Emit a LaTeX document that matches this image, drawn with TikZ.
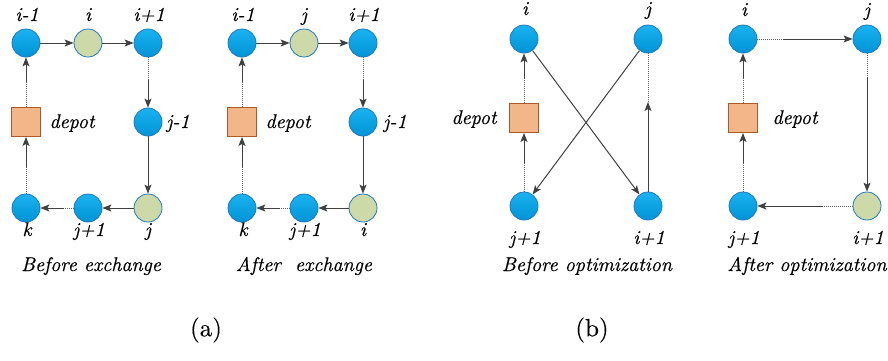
\documentclass[tikz,border=0pt]{standalone}
\usepackage{fontspec}
\newfontface\lblfont{lmroman10-italic.otf}[FakeBold=0.4]
\newfontface\capfont{lmroman10-regular.otf}[FakeBold=0.25]
\usetikzlibrary{arrows.meta}
\definecolor{blueTop}{HTML}{1AB2F0}
\definecolor{blueBot}{HTML}{0094D6}
\definecolor{borderblue}{HTML}{1E78BE}
\definecolor{nodegreen}{HTML}{CDD9A9}
\definecolor{depotfill}{HTML}{F3B689}
\definecolor{depotdraw}{HTML}{A85C2C}
\definecolor{arrgray}{HTML}{404040}
\tikzset{
  cust/.style={circle, minimum size=28pt, inner sep=0pt, draw=borderblue, line width=0.8pt, top color=blueTop, bottom color=blueBot},
  swapnode/.style={circle, minimum size=28pt, inner sep=0pt, draw=borderblue, line width=0.8pt, fill=nodegreen},
  depotbox/.style={rectangle, minimum size=29pt, inner sep=0pt, draw=depotdraw, line width=0.9pt, fill=depotfill},
  lbl/.style={font=\lblfont\fontsize{19.8}{24}\selectfont, inner sep=0pt, anchor=base},
  subcap/.style={font=\capfont\fontsize{25}{30}\selectfont, inner sep=0pt},
  arr/.style={draw=arrgray, line width=1pt, -{Stealth[length=9pt,width=7pt,inset=2pt]}},
  dotln/.style={draw=arrgray!85, line width=1pt, densely dotted},
}
\newcommand{\dotarrow}[3][0.45]{%
  \path (#2) -- (#3) coordinate[pos=#1] (dm);
  \draw[dotln] (#2) -- (dm);
  \draw[arr] (dm) -- (#3);}
\begin{document}
\begin{tikzpicture}[x=1pt,y=-1pt]
\useasboundingbox (0,0) rectangle (888,360);
% ---------- Panel 1 ----------
\node[cust] (a1) at (26,43) {};
\node[swapnode] (a2) at (88,43) {};
\node[cust] (a3) at (148,43) {};
\node[cust] (a4) at (148,122) {};
\node[swapnode] (a5) at (148,208) {};
\node[cust] (a6) at (88,208) {};
\node[cust] (a7) at (26,208) {};
\node[depotbox] (ad) at (26,122) {};
\node[lbl] (la1) at (27,21) {i-1};
\node[lbl] (la2) at (88,21) {i};
\node[lbl] (la3) at (149,21) {i+1};
\node[lbl] (la4) at (178,128) {j-1};
\node[lbl] (lad) at (72,128) {depot};
\node[lbl] (la5) at (148,236) {j};
\node[lbl] (la6) at (89,236) {j+1};
\node[lbl] (la7) at (27,236) {k};
\node[lbl] (ca) at (91,271) {Before exchange};
\draw[arr] (a1) -- (a2);
\draw[arr] (a2) -- (a3);
\dotarrow[0.45]{a3}{a4}
\draw[arr] (a4) -- (a5);
\draw[arr] (a5) -- (a6);
\dotarrow[0.28]{a6}{a7}
\dotarrow[0.47]{a7}{ad}
\dotarrow[0.5]{ad}{a1}
% ---------- Panel 2 ----------
\node[cust] (b1) at (242,43) {};
\node[swapnode] (b2) at (304,43) {};
\node[cust] (b3) at (363,43) {};
\node[cust] (b4) at (363,122) {};
\node[swapnode] (b5) at (363,208) {};
\node[cust] (b6) at (304,208) {};
\node[cust] (b7) at (242,208) {};
\node[depotbox] (bd) at (242,122) {};
\node[lbl] (lb1) at (243,21) {i-1};
\node[lbl] (lb2) at (304,21) {j};
\node[lbl] (lb3) at (364,21) {i+1};
\node[lbl] (lb4) at (395,128) {j-1};
\node[lbl] (lbd) at (288,128) {depot};
\node[lbl] (lb5) at (363,236) {i};
\node[lbl] (lb6) at (305,236) {j+1};
\node[lbl] (lb7) at (243,236) {k};
\node[lbl] (cb) at (304,271) {After~ exchange};
\draw[arr] (b1) -- (b2);
\draw[arr] (b2) -- (b3);
\dotarrow[0.45]{b3}{b4}
\draw[arr] (b4) -- (b5);
\draw[arr] (b5) -- (b6);
\dotarrow[0.28]{b6}{b7}
\dotarrow[0.47]{b7}{bd}
\dotarrow[0.5]{bd}{b1}
% ---------- Panel 3 ----------
\node[cust] (c1) at (524,39) {};
\node[cust] (c2) at (648,39) {};
\node[cust] (c3) at (524,206) {};
\node[cust] (c4) at (648,206) {};
\node[depotbox] (cd) at (524,118) {};
\node[lbl] (lc1) at (525,15) {i};
\node[lbl] (lc2) at (648,15) {j};
\node[lbl] (lc3) at (525,244) {j+1};
\node[lbl] (lc4) at (649,244) {i+1};
\node[lbl] (lcd) at (474,124) {depot};
\node[lbl] (cc) at (587,271) {Before optimization};
\coordinate (cm) at (648,102);
\dotarrow[0.5]{cd}{c1}
\dotarrow[0.48]{c3}{cd}
\draw[arr] (c1) -- (c4);
\draw[arr] (c2) -- (c3);
\draw[arr] (c4) -- (cm);
\draw[dotln] (cm) -- (c2);
% ---------- Panel 4 ----------
\node[cust] (d1) at (743,39) {};
\node[cust] (d2) at (867,39) {};
\node[cust] (d3) at (743,206) {};
\node[swapnode] (d4) at (867,206) {};
\node[depotbox] (dd) at (743,118) {};
\node[lbl] (ld1) at (744,16) {i};
\node[lbl] (ld2) at (867,16) {j};
\node[lbl] (ld3) at (744,244) {j+1};
\node[lbl] (ld4) at (868,244) {i+1};
\node[lbl] (ldd) at (795,124) {depot};
\node[lbl] (cdc) at (807,271) {After optimization};
\dotarrow[0.27]{d1}{d2}
\dotarrow[0.17]{d2}{d4}
\dotarrow[0.31]{d4}{d3}
\dotarrow[0.48]{d3}{dd}
\dotarrow[0.5]{dd}{d1}
% ---------- captions ----------
\node[subcap] (pa) at (206,330) {(a)};
\node[subcap] (pb) at (592,330) {(b)};
\end{tikzpicture}
\end{document}
